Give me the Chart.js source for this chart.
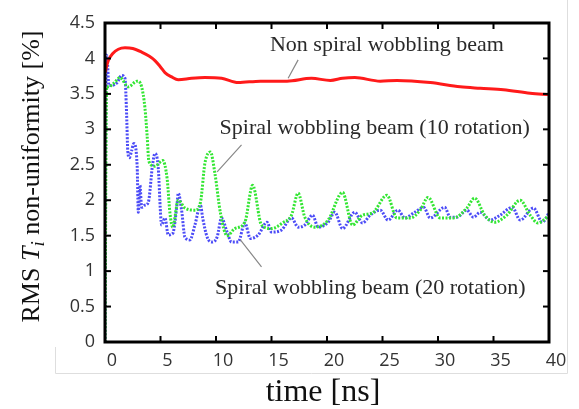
<!DOCTYPE html>
<html>
<head>
<meta charset="utf-8">
<script src="https://cdn.jsdelivr.net/npm/chart.js@4/dist/chart.umd.min.js"></script>
<style>
  html, body { margin: 0; padding: 0; background: #fff; }
</style>
</head>
<body>
<canvas id="chart1" width="579" height="409"></canvas>
<script>
// axis ticks
var xTicks = [0, 5, 10, 15, 20, 25, 30, 35, 40];
var yTicks = [0, 0.5, 1, 1.5, 2, 2.5, 3, 3.5, 4, 4.5];

// Non spiral wobbling beam
var redT = [0, 0.3, 0.7, 1.2, 1.8, 2.5, 3.3, 4.0, 4.5, 5.0, 5.4, 6.0, 6.6, 7.8, 9.0, 10.5, 12.0, 14.0, 16.4, 18.6, 20.3, 21.4, 22.5, 24.8, 26.3, 29.3, 32.0, 33.8, 35.9, 38.3, 40];
var redV = [3.8, 3.97, 4.07, 4.13, 4.15, 4.14, 4.09, 4.03, 3.97, 3.88, 3.80, 3.74, 3.70, 3.72, 3.73, 3.72, 3.66, 3.68, 3.68, 3.72, 3.69, 3.72, 3.73, 3.68, 3.69, 3.66, 3.60, 3.58, 3.56, 3.51, 3.49];

// Spiral wobbling beam (10 rotation)
var greenT = [0, 0.15, 0.3, 0.8, 1.35, 2.1, 2.9, 3.3, 3.6, 3.8, 3.95, 4.5, 5.2, 5.6, 5.85, 6.1, 6.6, 7.2, 8.1, 8.6, 9.0, 9.5, 9.9, 10.4, 11.0, 11.7, 12.6, 13.3, 14.1, 15.0, 16.0, 16.8, 17.4, 18.0, 18.9, 20.1, 21.4, 22.3, 23.2, 24.1, 25.4, 26.3, 27.5, 28.4, 29.1, 30.2, 31.4, 32.6, 33.3, 34.2, 35.1, 36.2, 37.4, 38.3, 39.0, 40];
var greenV = [0, 3.6, 3.6, 3.65, 3.73, 3.6, 3.68, 3.6, 3.3, 2.9, 2.55, 2.48, 2.56, 2.3, 1.82, 1.62, 2.0, 1.89, 1.86, 1.97, 2.52, 2.68, 2.38, 1.82, 1.5, 1.6, 1.69, 2.21, 1.65, 1.6, 1.68, 1.79, 2.1, 1.76, 1.62, 1.72, 2.11, 1.65, 1.79, 1.82, 2.07, 1.75, 1.75, 1.86, 2.04, 1.75, 1.75, 1.89, 2.03, 1.79, 1.69, 1.79, 2.0, 1.79, 1.68, 1.78];

// Spiral wobbling beam (20 rotation)
var blueT = [0, 0.1, 0.2, 0.35, 0.6, 1.1, 1.5, 1.8, 1.95, 2.05, 2.2, 2.4, 2.6, 2.9, 3.0, 3.15, 3.3, 3.6, 3.9, 4.3, 4.5, 4.8, 5.0, 5.1, 5.4, 5.7, 6.1, 6.5, 6.6, 6.9, 7.2, 7.65, 8.1, 8.6, 8.8, 9.2, 9.6, 10.1, 10.5, 11.0, 11.4, 12.0, 12.6, 13.1, 13.8, 14.6, 15.0, 15.9, 16.8, 17.4, 18.0, 18.7, 19.2, 20.1, 20.7, 21.4, 22.5, 23.2, 23.9, 24.8, 25.5, 26.4, 27.0, 27.9, 28.7, 29.3, 30.6, 31.1, 31.7, 32.6, 33.2, 33.8, 34.7, 35.6, 36.7, 37.4, 38.6, 39.4, 40];
var blueV = [0, 4.05, 4.0, 3.62, 3.62, 3.66, 3.76, 3.72, 3.2, 2.7, 2.6, 2.7, 2.8, 2.47, 1.83, 2.21, 1.9, 1.93, 1.97, 2.52, 2.66, 2.45, 1.82, 1.65, 1.75, 1.51, 1.53, 1.96, 2.1, 1.86, 1.48, 1.44, 1.65, 1.93, 1.75, 1.48, 1.41, 1.48, 1.75, 1.55, 1.41, 1.41, 1.68, 1.46, 1.51, 1.69, 1.55, 1.58, 1.75, 1.62, 1.65, 1.79, 1.62, 1.69, 1.83, 1.6, 1.83, 1.68, 1.79, 1.86, 1.72, 1.86, 1.75, 1.83, 1.9, 1.75, 1.9, 1.76, 1.76, 1.86, 1.76, 1.83, 1.72, 1.79, 1.9, 1.72, 1.89, 1.69, 1.82];

// annotations (label centre and leader line, in data units)
var annoText = ['Non spiral wobbling beam', 'Spiral wobbling beam (10 rotation)', 'Spiral wobbling beam (20 rotation)'];
var annoT = [25.4, 24.3, 23.9];
var annoV = [4.19, 3.02, 0.76];
var leadT1 = [17.4, 12.3, 14.1];
var leadV1 = [3.98, 2.78, 1.06];
var leadT2 = [16.5, 10.1, 12.2];
var leadV2 = [3.72, 2.40, 1.44];

var toPoints = function (ts, vs) {
    var pts = [];
    for (var i = 0; i < ts.length; i++) {
        pts.push({ x: ts[i], y: vs[i] });
    }
    return pts;
};

var serif = '"Liberation Serif", "Times New Roman", serif';

var framePlugin = {
    id: 'frame',
    afterDraw: function (chart) {
        var ctx = chart.ctx;
        var a = chart.chartArea;
        var xs = chart.scales.x, ys = chart.scales.y;
        ctx.save();

        // faint outer box of the original figure
        ctx.strokeStyle = '#dedede';
        ctx.lineWidth = 1;
        ctx.beginPath();
        ctx.moveTo(55.5, 347);
        ctx.lineTo(55.5, 373.5);
        ctx.lineTo(567.5, 373.5);
        ctx.lineTo(567.5, 0);
        ctx.stroke();

        // frame
        ctx.strokeStyle = '#000000';
        ctx.lineWidth = 3;
        ctx.strokeRect(a.left, a.top, a.right - a.left, a.bottom - a.top);

        // inner ticks
        ctx.fillStyle = '#000000';
        xTicks.forEach(function (v) {
            var px = xs.getPixelForValue(v);
            ctx.fillRect(px - 1, a.bottom - 6, 2, 6);
            ctx.fillRect(px - 1, a.top, 2, 6);
        });
        yTicks.forEach(function (v) {
            var py = ys.getPixelForValue(v);
            ctx.fillRect(a.left, py - 1, 6, 2);
            ctx.fillRect(a.right - 6, py - 1, 6, 2);
        });

        // annotations
        ctx.strokeStyle = '#888888';
        ctx.lineWidth = 1.2;
        ctx.beginPath();
        for (var i = 0; i < annoText.length; i++) {
            ctx.moveTo(xs.getPixelForValue(leadT1[i]), ys.getPixelForValue(leadV1[i]));
            ctx.lineTo(xs.getPixelForValue(leadT2[i]), ys.getPixelForValue(leadV2[i]));
        }
        ctx.stroke();
        ctx.fillStyle = '#2a2a2a';
        ctx.font = '22px ' + serif;
        ctx.textAlign = 'center';
        ctx.textBaseline = 'middle';
        for (var j = 0; j < annoText.length; j++) {
            ctx.fillText(annoText[j], xs.getPixelForValue(annoT[j]), ys.getPixelForValue(annoV[j]));
        }

        // x title
        ctx.fillStyle = '#111111';
        ctx.font = '32px ' + serif;
        ctx.textBaseline = 'alphabetic';
        ctx.fillText('time [ns]', (a.left + a.right) / 2 - 4, 401);

        // y title with italic T and subscript i
        var size = 26;
        var parts = [
            { s: 'RMS ', f: size + 'px ' + serif, dy: 0 },
            { s: 'T', f: 'italic ' + size + 'px ' + serif, dy: 0 },
            { s: 'i', f: 'italic ' + Math.round(size * 0.72) + 'px ' + serif, dy: 5 },
            { s: ' non-uniformity [%]', f: size + 'px ' + serif, dy: 0 }
        ];
        var total = 0;
        parts.forEach(function (p) { ctx.font = p.f; p.w = ctx.measureText(p.s).width; total += p.w; });
        ctx.translate(39, (a.top + a.bottom) / 2 - 6);
        ctx.rotate(-Math.PI / 2);
        ctx.textAlign = 'left';
        var cx = -total / 2;
        parts.forEach(function (p) {
            ctx.font = p.f;
            ctx.fillText(p.s, cx, p.dy);
            cx += p.w;
        });
        ctx.restore();
    }
};

var chart1 = new Chart(document.getElementById('chart1'), {
    type: 'line',
    data: {
        datasets: [{
            label: 'Non spiral wobbling beam',
            data: toPoints(redT, redV),
            borderColor: '#ff1a1a',
            borderWidth: 3,
            pointRadius: 0,
            cubicInterpolationMode: 'monotone'
        }, {
            label: 'Spiral wobbling beam (10 rotation)',
            data: toPoints(greenT, greenV),
            borderColor: '#33e633',
            borderWidth: 3,
            borderDash: [2, 1.5],
            pointRadius: 0,
            cubicInterpolationMode: 'monotone'
        }, {
            label: 'Spiral wobbling beam (20 rotation)',
            data: toPoints(blueT, blueV),
            borderColor: '#4c4cf7',
            borderWidth: 3,
            borderDash: [2, 1.5],
            pointRadius: 0,
            cubicInterpolationMode: 'monotone'
        }]
    },
    options: {
        responsive: false,
        animation: false,
        layout: { padding: { top: 23, right: 30 } },
        plugins: {
            legend: { display: false },
            tooltip: { enabled: false }
        },
        scales: {
            x: {
                type: 'linear',
                min: 0,
                max: 40,
                afterBuildTicks: function (scale) {
                    scale.ticks = xTicks.map(function (v) { return { value: v }; });
                },
                afterFit: function (scale) { scale.height = 67; },
                grid: { drawOnChartArea: false, drawTicks: false },
                border: { color: '#000000', width: 2 },
                ticks: {
                    padding: 8,
                    labelOffset: 7,
                    maxRotation: 0,
                    autoSkip: false,
                    color: '#333',
                    font: { family: '"Open Sans", sans-serif', size: 18 }
                }
            },
            y: {
                min: 0,
                max: 4.5,
                afterBuildTicks: function (scale) {
                    scale.ticks = yTicks.map(function (v) { return { value: v }; });
                },
                afterFit: function (scale) { scale.width = 105; },
                grid: { drawOnChartArea: false, drawTicks: false },
                border: { color: '#000000', width: 2 },
                ticks: {
                    padding: 10,
                    autoSkip: false,
                    color: '#333',
                    font: { family: '"Open Sans", sans-serif', size: 18 },
                    callback: function (value) { return String(value); }
                }
            }
        }
    },
    plugins: [framePlugin]
});
</script>
</body>
</html>
